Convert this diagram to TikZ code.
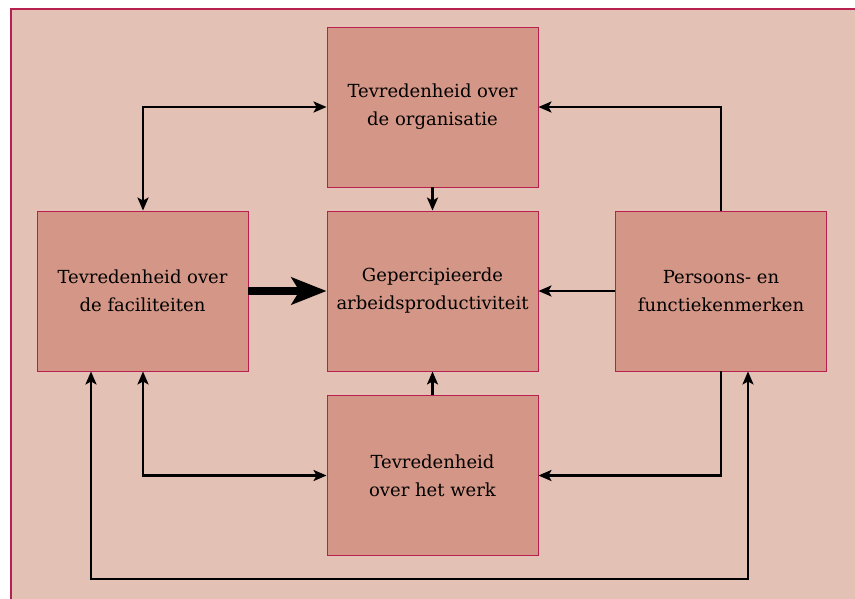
\documentclass[tikz,border=0pt]{standalone}
\usepackage{fontspec}
\setmainfont{DejaVu Serif}
\usetikzlibrary{arrows.meta}
\definecolor{bgfill}{HTML}{E4C1B5}
\definecolor{boxfill}{HTML}{D49686}
\definecolor{crim}{HTML}{B82050}
\begin{document}
\begin{tikzpicture}[x=1pt,y=-1pt,
  box/.style={draw=crim,line width=0.9pt,fill=boxfill,minimum width=211pt,minimum height=160pt,
    align=center,font=\fontsize{18}{28}\selectfont,inner sep=0pt},
  conn/.style={line width=2.6pt,black,-{Stealth[length=13pt,width=11pt,inset=3pt]}},
  conn2/.style={line width=2.6pt,black,{Stealth[length=13pt,width=11pt,inset=3pt]}-{Stealth[length=13pt,width=11pt,inset=3pt]}}]
\useasboundingbox (0,0) rectangle (855,598);
\fill[white] (0,0) rectangle (855,598);
\draw[crim,line width=1.2pt,fill=bgfill] (11,9) rectangle (870,620);
\node[box] (top) at (432.5,107) {Tevredenheid over\\de organisatie};
\node[box] (mid) at (432.5,291) {Gepercipieerde\\arbeidsproductiviteit};
\node[box] (left) at (142.5,291) {Tevredenheid over\\de faciliteiten};
\node[box] (right) at (721,291) {Persoons- en\\functiekenmerken};
\node[box] (bot) at (432.5,475.5) {Tevredenheid\\over het werk};
\coordinate (c1) at (143,107);
\coordinate (c2) at (721,107);
\coordinate (c3) at (143,475.5);
\coordinate (c4) at (721,475.5);
\coordinate (c5) at (91,579);
\coordinate (c6) at (748,579);
\draw[conn2] (left.north -| c1) |- (top.west);
\draw[conn] (right.north -| c2) |- (top.east);
\draw[conn] (top.south) -- (mid.north);
\draw[conn] (right.west) -- (mid.east);
\draw[conn] (bot.north) -- (mid.south);
\draw[conn2] (left.south -| c3) |- (bot.west);
\draw[conn] (right.south -| c4) |- (bot.east);
\draw[conn2] (left.south -| c5) -- (c5) -- (c6) -- (right.south -| c6);
\draw[line width=7.7pt,-{Stealth[length=35pt,width=27pt,inset=8pt]}] (left.east) -- (mid.west);
\end{tikzpicture}
\end{document}
